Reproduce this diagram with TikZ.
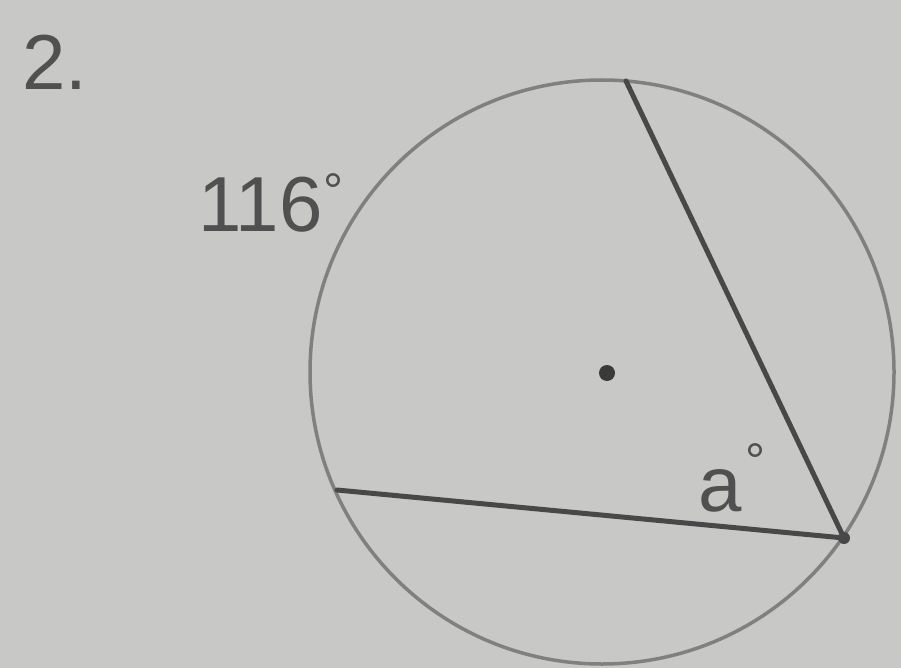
\documentclass[tikz,border=0pt]{standalone}
\usepackage{fontspec}
\setmainfont{Liberation Sans}
\definecolor{bg}{RGB}{200,200,198}
\definecolor{circ}{RGB}{128,128,128}
\definecolor{chord}{RGB}{72,72,72}
\definecolor{txt}{RGB}{80,80,80}
\begin{document}
\begin{tikzpicture}[x=1pt,y=-1pt,
  lbl/.style={text=txt,inner sep=0pt,font=\fontsize{78}{78}\selectfont},
  chordline/.style={draw=chord,line width=5pt,line cap=round}]
\fill[bg] (0,0) rectangle (901,668);
\useasboundingbox (0,0) rectangle (901,668);
\coordinate (O) at (602,372);
\draw[circ,line width=3.5pt] (O) circle[radius=292];
\fill[chord!80!black] (607,373) circle[radius=8];
\coordinate (T) at (626,81);
\coordinate (B) at (844,538);
\coordinate (L) at (337,490);
\draw[chordline] (T) -- (B) -- (L);
\fill[chord] (B) circle[radius=6];
\node[lbl,anchor=west] (n2) at (22,62) {2.};
\node[lbl,anchor=west] (arc) at (198,203) {116\kern1pt\raisebox{0.3em}{\fontsize{50}{50}\selectfont°}};
\node[lbl,anchor=west] (ang) at (698,478) {a\kern4pt\raisebox{0.42em}{\fontsize{50}{50}\selectfont°}};
\end{tikzpicture}
\end{document}
